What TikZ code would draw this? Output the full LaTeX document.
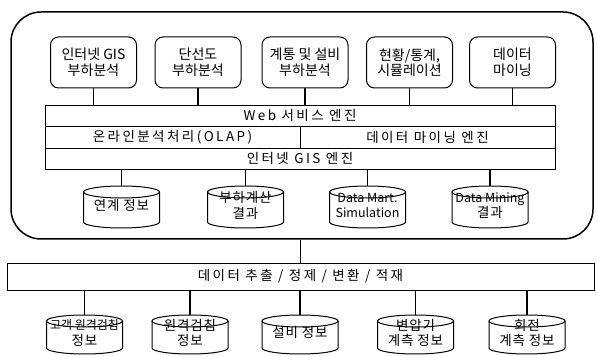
\documentclass[tikz,border=0pt]{standalone}
\usepackage{fontspec}
\setmainfont{Noto Sans CJK KR}
\newfontfamily\barfont[LetterSpace=18]{Noto Sans CJK KR}
\newfontfamily\cylfont[LetterSpace=6]{Noto Sans CJK KR}
\newcommand\lat[1]{{\fontsize{12.5}{14}\normalfont #1}}
\newcommand\narrow[1]{{\fontsize{12}{14}\normalfont #1}}
\newcommand\ctext[1]{\raisebox{-3pt}{\begin{tabular}{@{}c@{}}#1\end{tabular}}}
\newcommand\ctextb[1]{\raisebox{-2.5pt}{\begin{tabular}{@{}c@{}}#1\end{tabular}}}
\renewcommand\arraystretch{0.9}
\newcommand\drawcyl[1]{%
  \draw[cylline] ([yshift=-6pt]#1.north) ellipse[x radius=38pt, y radius=6pt];
  \draw[cylline] ([yshift=-6pt]#1.north west) -- ([yshift=6pt]#1.south west)
    arc[start angle=180, end angle=360, x radius=38pt, y radius=6pt]
    -- ([yshift=-6pt]#1.north east);}
\tikzset{
  topbox/.style={draw, line width=1pt, rounded corners=8pt, minimum width=86pt,
    minimum height=51pt, align=center, inner sep=1pt, font=\fontsize{14}{15.5}\selectfont},
  barbox/.style={draw, line width=0.9pt, inner sep=0pt, font=\fontsize{13.5}{15}\barfont},
  cylbox/.style={minimum width=76pt, outer sep=0pt, inner sep=0pt,
    font=\fontsize{13.5}{16}\cylfont},
  cylline/.style={line width=1pt},
  conn/.style={line width=1.5pt},
  frame/.style={draw, line width=1.5pt, rounded corners=30pt}
}
\begin{document}
\begin{tikzpicture}[x=1pt,y=1pt]
\useasboundingbox[fill=white] (0,0) rectangle (597,356);
% outer frame
\node[frame, minimum width=582pt, minimum height=227pt, inner sep=0pt] (outer) at (302,230.5) {};
% top boxes
\node[topbox] (b1) at (93.5,293.5) {인터넷 GIS\\부하분석};
\node[topbox] (b2) at (198,293.5) {단선도\\부하분석};
\node[topbox] (b3) at (305,293.5) {계통 및 설비\\부하분석};
\node[topbox] (b4) at (409.5,293.5) {현황/통계,\\시뮬레이션};
\node[topbox] (b5) at (512.5,293.5) {데이터\\마이닝};
% engine bars
\node[barbox, minimum width=510pt, minimum height=21pt] (web) at (300,240.5) {Web 서비스 엔진};
\node[barbox, minimum width=255pt, minimum height=22pt] (olap) at (172.5,219) {온라인분석처리(OLAP)};
\node[barbox, minimum width=255pt, minimum height=22pt] (dme) at (427.5,219) {데이터 마이닝 엔진};
\node[barbox, minimum width=510pt, minimum height=21pt] (gis) at (300,197.5) {인터넷 GIS 엔진};
% connectors top boxes -> web
\foreach \b in {b1,b2,b3,b4,b5}
  \draw[conn] (\b.south) -- (\b.south |- web.north);
% cylinders row 1
\node[cylbox, minimum height=42pt] (c1) at (121.5,149) {\ctext{연계 정보}};
\node[cylbox, minimum height=42pt] (c2) at (245.5,149) {\ctextb{부하계산\\결과}};
\node[cylbox, minimum height=42pt] (c3) at (367.5,149) {\ctextb{\lat{Data Mart.}\\\lat{Simulation}}};
\node[cylbox, minimum height=42pt] (c4) at (490,149) {\ctextb{\lat{Data Mining}\\결과}};
\foreach \c in {c1,c2,c3,c4}{
  \drawcyl{\c}
  \draw[conn] (\c.north |- gis.south) -- (\c.north);
}
% extraction bar
\node[barbox, minimum width=587pt, minimum height=27pt] (bar) at (300.5,79.5) {데이터 추출 / 정제 / 변환 / 적재};
\draw[conn] (bar.north |- outer.south) -- (bar.north);
% cylinders row 2
\node[cylbox, minimum height=39pt] (d1) at (84.5,21.5) {\ctextb{\narrow{고객 원격검침}\\정보}};
\node[cylbox, minimum height=39pt] (d2) at (190,21.5) {\ctextb{원격검침\\정보}};
\node[cylbox, minimum height=39pt] (d3) at (300,21.5) {\ctext{설비 정보}};
\node[cylbox, minimum height=39pt] (d4) at (415.5,21.5) {\ctextb{변압기\\계측 정보}};
\node[cylbox, minimum height=39pt] (d5) at (527,21.5) {\ctextb{회전\\계측 정보}};
\foreach \d in {d1,d2,d3,d4,d5}{
  \drawcyl{\d}
  \draw[conn] (\d.north |- bar.south) -- (\d.north);
}
\end{tikzpicture}
\end{document}
